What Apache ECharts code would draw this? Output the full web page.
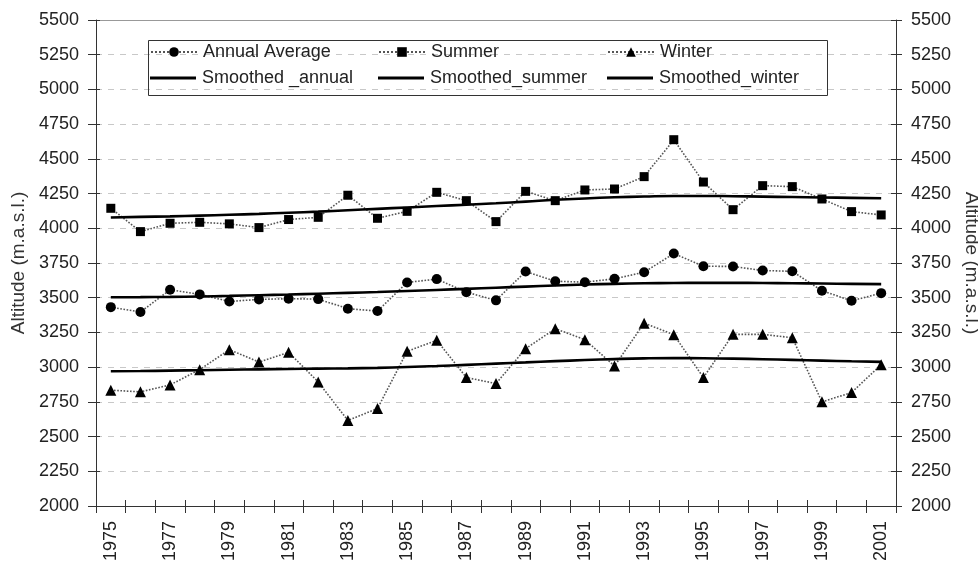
<!DOCTYPE html>
<html>
<head>
<meta charset="utf-8">
<script src="https://cdn.jsdelivr.net/npm/echarts@6/dist/echarts.min.js"></script>
<style>
  html, body { margin: 0; padding: 0; background: #fff; }
  #chart { width: 978px; height: 562px; }
</style>
</head>
<body>
<div id="chart"></div>
<script>
// Years on the category axis
const years = ['1975','1976','1977','1978','1979','1980','1981','1982','1983','1984',
  '1985','1986','1987','1988','1989','1990','1991','1992','1993','1994',
  '1995','1996','1997','1998','1999','2000','2001'];

// Yearly altitudes (m a.s.l.)
const annualAverage = [3432, 3397, 3557, 3524, 3473, 3488, 3493, 3490, 3421, 3404,
  3610, 3634, 3540, 3481, 3689, 3619, 3612, 3636, 3684, 3818,
  3727, 3725, 3696, 3690, 3550, 3478, 3533];
const summer = [4144, 3976, 4036, 4043, 4032, 4005, 4063, 4079, 4238, 4072,
  4122, 4259, 4199, 4048, 4266, 4199, 4276, 4283, 4372, 4638,
  4333, 4134, 4307, 4300, 4211, 4120, 4096];
const winter = [2834, 2822, 2872, 2982, 3126, 3037, 3107, 2893, 2616, 2702,
  3114, 3193, 2925, 2882, 3133, 3277, 3198, 3008, 3317, 3234,
  2925, 3236, 3236, 3212, 2750, 2817, 3018];

// Smoothed trends
const smoothedAnnual = [3503, 3504, 3506, 3509, 3513, 3518, 3523, 3529, 3535, 3541,
  3548, 3556, 3564, 3572, 3580, 3588, 3595, 3600, 3604, 3606,
  3607, 3607, 3606, 3604, 3602, 3600, 3598];
const smoothedSummer = [4078, 4082, 4086, 4091, 4097, 4104, 4112, 4120, 4130, 4140,
  4150, 4160, 4170, 4180, 4192, 4205, 4215, 4223, 4229, 4233,
  4233, 4231, 4228, 4225, 4222, 4219, 4216];
const smoothedWinter = [2970, 2972, 2975, 2978, 2981, 2984, 2987, 2989, 2991, 2995,
  3001, 3008, 3016, 3025, 3034, 3043, 3051, 3058, 3063, 3065,
  3064, 3061, 3057, 3052, 3047, 3042, 3038];

// Value axis range
const yMin = 2000, yMax = 5500, yStep = 250;
const axisName = 'Altitude (m.a.s.l.)';

const FONT = 'Liberation Sans, Arial, sans-serif';
const TXT = '#222';
const AX = '#333';

function plain(v) { return String(v); }

function dataSeries(name, values, symbol, size) {
  return {
    name: name, type: 'line', data: values,
    symbol: symbol, symbolSize: size, showSymbol: true,
    xAxisIndex: 0, yAxisIndex: 0,
    itemStyle: { color: '#000' },
    lineStyle: { type: 'dotted', width: 1.6, color: '#555' },
    z: 3
  };
}
function trendSeries(name, values) {
  return {
    name: name, type: 'line', data: values, smooth: true,
    symbol: 'none', xAxisIndex: 0, yAxisIndex: 0,
    itemStyle: { color: '#000' },
    lineStyle: { type: 'solid', width: 2.6, color: '#000' },
    z: 4
  };
}

function valueAxis(extra) {
  return Object.assign({
    type: 'value', min: yMin, max: yMax, interval: yStep,
    axisLine: { show: true, lineStyle: { color: AX, width: 1 } },
    axisTick: { show: true, length: 8, lineStyle: { color: AX } },
    axisLabel: { show: true, fontFamily: FONT, fontSize: 18, color: TXT, formatter: plain },
    splitLine: { show: false }
  }, extra);
}

function legendAt(name, left, top, trend) {
  return {
    data: [trend ? { name: name, icon: 'rect' } : name],
    left: left, top: top, orient: 'horizontal',
    itemWidth: 46, itemHeight: trend ? 3 : 12, itemGap: 0, padding: 0,
    textStyle: { fontFamily: FONT, fontSize: 18, color: TXT, padding: [0, 0, 0, 1] },
    selectedMode: false
  };
}

const chart = echarts.init(document.getElementById('chart'), null, { renderer: 'canvas' });

chart.setOption({
  animation: false,
  backgroundColor: '#fff',
  grid: { left: 96, right: 82, top: 20, bottom: 56, containLabel: false, outerBoundsMode: 'none' },
  xAxis: [
    {
      type: 'category', data: years, position: 'bottom', boundaryGap: true,
      axisLine: { show: true, lineStyle: { color: AX, width: 1.2 } },
      axisTick: { show: true, interval: 0, length: 7, lineStyle: { color: AX } },
      axisLabel: { interval: 1, rotate: 90, margin: 15, fontFamily: FONT, fontSize: 18, color: TXT },
      splitLine: { show: false }
    },
    {
      // inward half of the crossing ticks on the bottom axis
      type: 'category', data: years, position: 'bottom', boundaryGap: true,
      axisLine: { show: false },
      axisTick: { show: true, inside: true, interval: 0, length: 6, lineStyle: { color: AX } },
      axisLabel: { show: false }, splitLine: { show: false }
    },
    {
      // plain frame line along the top
      type: 'category', data: years, position: 'top', boundaryGap: true,
      axisLine: { show: true, lineStyle: { color: '#999', width: 1 } },
      axisTick: { show: false }, axisLabel: { show: false }, splitLine: { show: false }
    }
  ],
  yAxis: [
    valueAxis({
      position: 'left',
      axisLabel: { margin: 17, fontFamily: FONT, fontSize: 18, color: TXT, formatter: plain },
      name: axisName, nameLocation: 'middle', nameGap: 68, nameRotate: 90,
      nameTextStyle: { fontFamily: FONT, fontSize: 19, color: '#333' },
      splitLine: { show: true, lineStyle: { type: [6, 6], color: '#c8c8c8', width: 1 } }
    }),
    valueAxis({
      position: 'right',
      axisTick: { show: true, length: 6, lineStyle: { color: AX } },
      axisLabel: { margin: 15, fontFamily: FONT, fontSize: 18, color: TXT, formatter: plain },
      name: axisName, nameLocation: 'middle', nameGap: 60, nameRotate: -90,
      nameTextStyle: { fontFamily: FONT, fontSize: 19, color: '#333' }
    }),
    valueAxis({
      position: 'left', axisLine: { show: false },
      axisTick: { show: true, inside: true, length: 4, lineStyle: { color: AX } },
      axisLabel: { show: false }
    }),
    valueAxis({
      position: 'right', axisLine: { show: false },
      axisTick: { show: true, inside: true, length: 5, lineStyle: { color: AX } },
      axisLabel: { show: false }
    })
  ],
  legend: [
    legendAt('Annual Average', 150, 43, false),
    legendAt('Summer', 378, 43, false),
    legendAt('Winter', 607, 43, false),
    legendAt('Smoothed _annual', 150, 69, true),
    legendAt('Smoothed_summer', 378, 69, true),
    legendAt('Smoothed_winter', 607, 69, true)
  ],
  graphic: [
    {
      type: 'rect', left: 146, top: 38, z: 10, silent: true,
      shape: { width: 679, height: 55 },
      style: { fill: null, stroke: '#333', lineWidth: 1 }
    }
  ],
  series: [
    dataSeries('Annual Average', annualAverage, 'circle', 10),
    dataSeries('Summer', summer, 'rect', 9),
    dataSeries('Winter', winter, 'triangle', 11),
    trendSeries('Smoothed _annual', smoothedAnnual),
    trendSeries('Smoothed_summer', smoothedSummer),
    trendSeries('Smoothed_winter', smoothedWinter)
  ]
});
</script>
</body>
</html>
